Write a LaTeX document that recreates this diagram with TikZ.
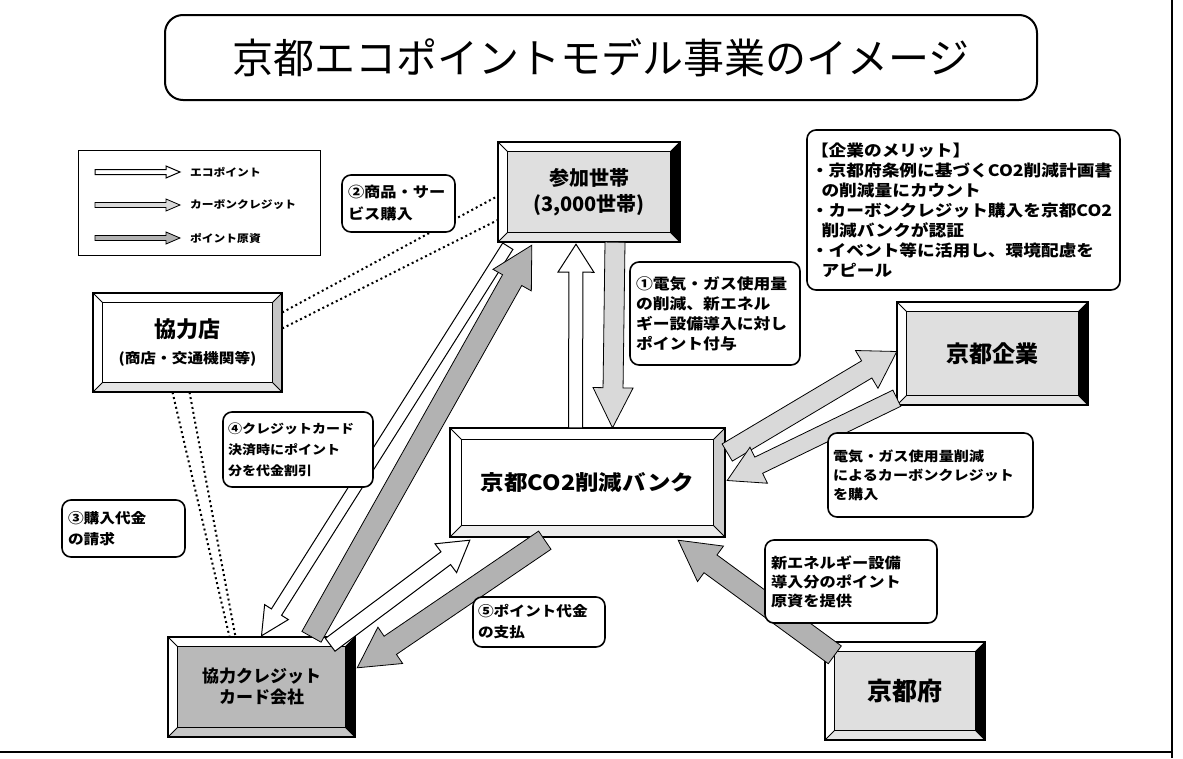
\documentclass[tikz,border=0pt]{standalone}
\usepackage{fontspec}
\newfontfamily\jp{Noto Sans CJK JP}
\newfontfamily\jpb{Noto Sans CJK JP}
\newfontfamily\jps{Noto Sans CJK JP}[FakeStretch=1.12, BoldFeatures={FakeStretch=1.12}]
\usetikzlibrary{calc}
\newcommand\fsz[2]{\fontsize{#1}{#2}\selectfont}
% block arrow: style, from, to, shaft half width, head half width, head length
\newcommand\blockarrow[6]{%
  \path[#1] let \p1=(#2), \p2=(#3), \n1={atan2(\y2-\y1,\x2-\x1)},
    \n2={veclen(\x2-\x1,\y2-\y1)-#6pt}, \p3=($(\p1)+(\n1:\n2)$) in
    ($(\p1)+(\n1+90:#4pt)$) -- ($(\p3)+(\n1+90:#4pt)$) -- ($(\p3)+(\n1+90:#5pt)$)
    -- (\p2) -- ($(\p3)+(\n1-90:#5pt)$) -- ($(\p3)+(\n1-90:#4pt)$)
    -- ($(\p1)+(\n1-90:#4pt)$) -- cycle;}
% bevelled frame round a node: name, depth, right fill, bottom fill
\newcommand\bevel[4]{%
  \coordinate (#1-a) at ($(#1.north west)+(#2,#2)$);
  \coordinate (#1-b) at ($(#1.north east)+(-#2,#2)$);
  \coordinate (#1-c) at ($(#1.south east)+(-#2,-#2)$);
  \coordinate (#1-d) at ($(#1.south west)+(#2,-#2)$);
  \fill[white] (#1.north west) -- (#1.north east) -- (#1-b) -- (#1-a) -- cycle;
  \fill[white] (#1.north west) -- (#1-a) -- (#1-d) -- (#1.south west) -- cycle;
  \fill[#3] (#1.north east) -- (#1.south east) -- (#1-c) -- (#1-b) -- cycle;
  \fill[#4] (#1.south west) -- (#1-d) -- (#1-c) -- (#1.south east) -- cycle;
  \draw[line width=0.8pt] (#1.north west) -- (#1-a) (#1.north east) -- (#1-b)
    (#1.south east) -- (#1-c) (#1.south west) -- (#1-d);
  \draw[line width=1.2pt] (#1-a) rectangle (#1-c);
  \draw[line width=1.6pt] (#1.north west) rectangle (#1.south east);}
\begin{document}
\begin{tikzpicture}[x=1pt,y=-1pt,
  callout/.style={draw, line width=1.6pt, rounded corners=9pt, fill=white, inner sep=0pt, align=left},
  bx/.style={inner sep=0pt, align=center},
  eco/.style={draw, line width=1pt, fill=white},
  cred/.style={draw, line width=0.8pt, fill=gray!30},
  fund/.style={draw, line width=0.8pt, fill=gray!60},
  dotln/.style={line width=2pt, dash pattern=on 2pt off 3pt}]
\useasboundingbox (0,0) rectangle (1183,758);
\fill[white] (0,0) rectangle (1183,758);
% outer frame
\coordinate (fr1) at (0,752);
\coordinate (fr2) at (1172,752);
\coordinate (fr3) at (1172,0);
\coordinate (fr4) at (1172,758);
\draw[line width=1.2pt] (fr1) -- (fr2) (fr3) -- (fr4);
% title
\node[draw, line width=2pt, rounded corners=18pt, minimum width=872pt, minimum height=85pt,
  font=\jp\fsz{41}{41}] (title) at (601,57.5) {京都エコポイントモデル事業のイメージ};
% legend
\node[draw, line width=1pt, minimum width=242pt, minimum height=105pt] (leg) at (199,202.5) {};
\coordinate (l1s) at (95,172); \coordinate (l1e) at (180,172);
\coordinate (l2s) at (95,205); \coordinate (l2e) at (180,205);
\coordinate (l3s) at (95,238); \coordinate (l3e) at (180,238);
\blockarrow{eco}{l1s}{l1e}{2.5}{6}{14}
\blockarrow{cred}{l2s}{l2e}{2.5}{6}{14}
\blockarrow{fund}{l3s}{l3e}{2.5}{6}{14}
\node[anchor=west, inner sep=0pt, font=\jps\bfseries\fsz{10.5}{12}] (lt1) at (190,172) {エコポイント};
\node[anchor=west, inner sep=0pt, font=\jps\bfseries\fsz{10.5}{12}] (lt2) at (190,205) {カーボンクレジット};
\node[anchor=west, inner sep=0pt, font=\jps\bfseries\fsz{10.5}{12}] (lt3) at (190,238) {ポイント原資};
% main boxes
\node[bx, minimum width=182pt, minimum height=100pt, fill=gray!25, font=\jpb\bfseries\fsz{20}{26}] (hh) at (589,192) {参加世帯\\(3,000世帯)};
\node[bx, minimum width=189pt, minimum height=99pt, fill=white, font=\jpb\bfseries\fsz{22}{26}] (shop) at (187.5,342.5) {協力店\\{\jps\bfseries\fsz{14}{18}(商店・交通機関等)}};
\node[bx, minimum width=275pt, minimum height=109pt, fill=white, font=\jps\bfseries\fsz{21}{24}] (bank) at (587.5,482.5) {京都CO2削減バンク};
\node[bx, minimum width=191pt, minimum height=103pt, fill=gray!25, font=\jpb\bfseries\fsz{23}{26}] (corp) at (992.5,353.5) {京都企業};
\node[bx, minimum width=187pt, minimum height=100pt, fill=gray!55, font=\jpb\bfseries\fsz{17}{21}] (card) at (261.5,687) {協力クレジット\\カード会社};
\node[bx, minimum width=160pt, minimum height=98pt, fill=gray!25, font=\jpb\bfseries\fsz{25}{26}] (pref) at (905,691) {京都府};
\bevel{hh}{10}{black}{gray!20}
\bevel{shop}{10}{gray!45}{gray!20}
\bevel{bank}{12}{gray!40}{gray!15}
\bevel{corp}{10}{black}{gray!20}
\bevel{card}{10}{black}{gray!45}
\bevel{pref}{10}{black}{gray!20}
% arrows
\blockarrow{eco}{$(bank.north)+(-12,0)$}{$(hh.south)+(-13,2)$}{7}{18}{28}
\blockarrow{cred}{$(hh.south)+(26,0)$}{$(bank.north)+(25,0)$}{10}{20}{40}
\blockarrow{eco}{$(hh.south west)+(10,4)$}{$(card.north)+(0,-1)$}{6}{14}{28}
\blockarrow{fund}{$(card.north)+(50,0)$}{$(hh.south west)+(34,3)$}{11}{22}{40}
\blockarrow{eco}{$(card.north east)+(-25,8)$}{$(bank.south west)+(20,3)$}{8}{18}{30}
\blockarrow{fund}{$(bank.south west)+(95,3)$}{$(card.north east)+(2,31)$}{11}{22}{40}
\blockarrow{cred}{$(bank.east)+(2,-30)$}{$(corp.west)+(0,-2)$}{10}{22}{35}
\blockarrow{cred}{$(corp.south west)+(0,-7)$}{$(bank.east)+(2,-2)$}{9}{20}{35}
\blockarrow{fund}{$(pref.north west)+(10,13)$}{$(bank.south east)+(-47,3)$}{11}{22}{40}
% dotted connectors
\draw[dotln] ($(shop.east)+(0,-30)$) -- ($(hh.west)+(0,4)$);
\draw[dotln] ($(shop.east)+(0,-14)$) -- ($(hh.west)+(0,28)$);
\draw[dotln] ($(shop.south)+(-15,0)$) -- ($(card.north)+(-32,0)$);
\draw[dotln] ($(shop.south)+(2,0)$) -- ($(card.north)+(-26,0)$);
% callouts
\node[callout, minimum width=113pt, minimum height=57pt, text width=101pt, font=\jps\bfseries\fsz{14.5}{22}] (c2) at (398.5,203.5) {②商品・サー\\ビス購入};
\node[callout, minimum width=170pt, minimum height=103pt, text width=158pt, font=\jps\bfseries\fsz{15}{20}] (c1) at (715,313.5) {①電気・ガス使用量\\の削減、新エネル\\ギー設備導入に対し\\ポイント付与};
\node[callout, minimum width=313pt, minimum height=160pt, text width=305pt, font=\jps\bfseries\fsz{15.8}{20}] (cm) at (963.5,210) {【企業のメリット】\\・京都府条例に基づくCO2削減計画書\\\ \ の削減量にカウント\\・カーボンクレジット購入を京都CO2\\\ \ 削減バンクが認証\\・イベント等に活用し、環境配慮を\\\ \ アピール};
\node[callout, minimum width=150pt, minimum height=75pt, text width=140pt, font=\jps\bfseries\fsz{12.5}{21}] (c4) at (298,449.5) {④クレジットカード\\決済時にポイント\\分を代金割引};
\node[callout, minimum width=123pt, minimum height=57pt, text width=111pt, font=\jps\bfseries\fsz{14}{21}] (c3) at (123.5,528.5) {③購入代金\\の請求};
\node[callout, minimum width=132pt, minimum height=50pt, text width=122pt, font=\jps\bfseries\fsz{14}{21}] (c5) at (539,622) {⑤ポイント代金\\の支払};
\node[callout, minimum width=205pt, minimum height=84pt, text width=195pt, font=\jps\bfseries\fsz{13.5}{19}] (ce) at (930.5,475) {電気・ガス使用量削減\\によるカーボンクレジット\\を購入};
\node[callout, minimum width=172pt, minimum height=83pt, text width=160pt, font=\jps\bfseries\fsz{14.5}{19}] (cn) at (851,581.5) {新エネルギー設備\\導入分のポイント\\原資を提供};
\end{tikzpicture}
\end{document}
